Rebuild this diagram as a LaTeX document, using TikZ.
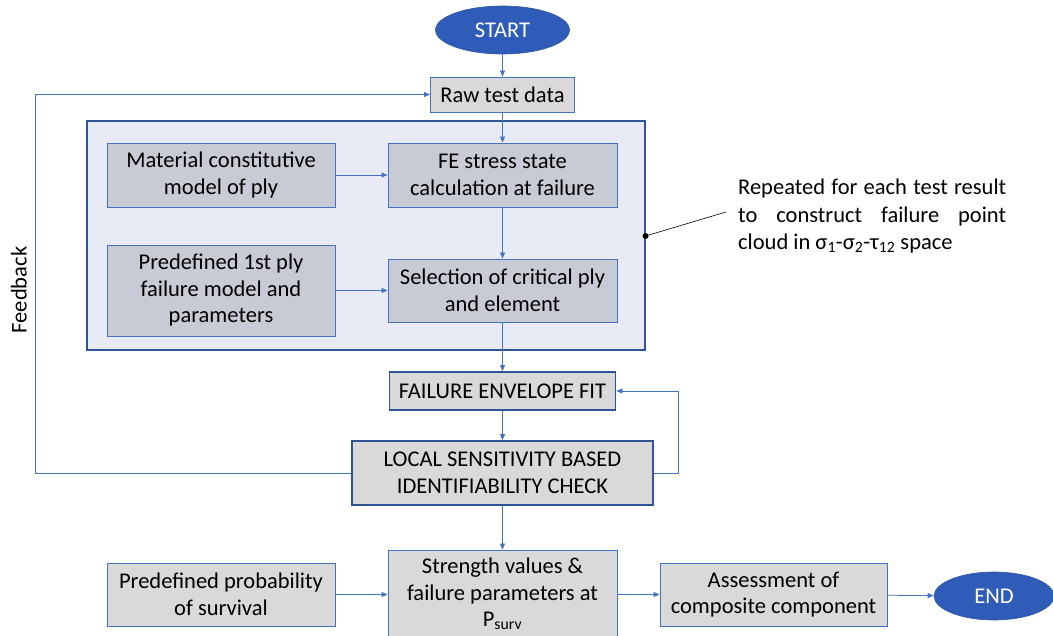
\documentclass[tikz,border=0pt]{standalone}
\usepackage{fontspec}
\setmainfont{Carlito}
\usetikzlibrary{shapes.geometric,arrows.meta,calc}
\definecolor{bord}{RGB}{68,114,196}
\definecolor{dbord}{RGB}{47,85,151}
\definecolor{grayfill}{RGB}{217,217,217}
\definecolor{innerfill}{RGB}{200,203,211}
\definecolor{outerfill}{RGB}{232,235,245}
\definecolor{ellfill}{RGB}{46,92,184}
\definecolor{linecol}{RGB}{68,114,196}
\begin{document}
\begin{tikzpicture}[x=1pt,y=-1pt,
  txt/.style={font=\fontsize{22.5}{26.5}\selectfont, text=black, align=center, inner sep=0pt},
  graybox/.style={txt, rectangle, draw=bord, line width=0.9pt, fill=grayfill},
  innerbox/.style={txt, rectangle, draw=bord, line width=0.9pt, fill=innerfill},
  thickbox/.style={txt, rectangle, draw=dbord, line width=1.8pt, fill=grayfill},
  terminal/.style={ellipse, fill=ellfill, draw=dbord, line width=0.6pt, text=white, font=\fontsize{22.5}{26}\selectfont, inner sep=0pt},
  conn/.style={draw=linecol, line width=0.8pt, -{Triangle[length=6pt,width=5pt]}},
  plain/.style={draw=linecol, line width=0.8pt}
]
\useasboundingbox (0,0) rectangle (1053,636);

% outer group box
\node[rectangle, draw=dbord, line width=1.1pt, fill=outerfill, minimum width=558pt, minimum height=229pt, inner sep=0pt] (outer) at (366,235.5) {};

\node[terminal, minimum width=134pt, minimum height=48pt] (start) at (502.5,30) {START};
\node[graybox, minimum width=144pt, minimum height=35pt] (raw) at (502.5,94.5) {Raw test data};

\node[innerbox, minimum width=228pt, minimum height=64pt] (mat) at (221,175) {Material constitutive\\model of ply};
\node[innerbox, minimum width=229pt, minimum height=64pt] (fe) at (502.5,175) {FE stress state\\calculation at failure};
\node[innerbox, minimum width=228pt, minimum height=91pt] (pre) at (221,290.5) {Predefined 1st ply\\failure model and\\parameters};
\node[innerbox, minimum width=229pt, minimum height=63pt] (sel) at (502.5,290.5) {Selection of critical ply\\and element};

\node[thickbox, minimum width=226pt, minimum height=38pt] (fef) at (502.5,391) {FAILURE ENVELOPE FIT};
\node[thickbox, minimum width=301pt, minimum height=64pt] (loc) at (502.5,473) {LOCAL SENSITIVITY BASED\\IDENTIFIABILITY CHECK};

\node[graybox, minimum width=229pt, minimum height=88pt] (str) at (502.5,594) {Strength values \&\\failure parameters at\\P\textsubscript{surv}};
\node[graybox, minimum width=228pt, minimum height=63pt] (prob) at (221,594.5) {Predefined probability\\of survival};
\node[graybox, minimum width=227pt, minimum height=63pt] (ass) at (773.5,594.5) {Assessment of\\composite component};
\node[terminal, minimum width=120pt, minimum height=48pt] (end) at (994,596) {END};

% annotation
\node[font=\fontsize{22.5}{27.5}\selectfont, align=left, inner sep=0pt, anchor=north west] (ann) at (738,179) {\makebox[268pt][s]{Repeated for each test result}\\\makebox[268pt][s]{to construct failure point}\\cloud in σ\textsubscript{1}-σ\textsubscript{2}-τ\textsubscript{12} space};
\coordinate (dot) at (outer.east |- 0,236);
\coordinate (annend) at (726,212);
\draw[black, line width=0.6pt] (dot) -- (annend);
\fill[black] (dot) circle (3pt);

% feedback label
\node[font=\fontsize{22.5}{26}\selectfont, rotate=90, inner sep=0pt] (fb) at (19,290) {Feedback};

% connectors
\draw[conn] (start) -- (raw);
\draw[conn] (raw) -- (fe);
\draw[conn] (mat) -- (fe);
\draw[conn] (fe) -- (sel);
\draw[conn] (pre.east |- sel.west) -- (sel.west);
\draw[conn] (sel) -- (fef);
\draw[conn] (fef) -- (loc);
\draw[conn] (loc.west) -- ++(-316,0) |- (raw.west);
\draw[conn] (loc.east) -- ++(24,0) |- (fef.east);
\draw[conn] (loc.south) -- (str.north);
\draw[conn] (prob) -- (str.west |- prob.east);
\draw[conn] (str.east |- ass.west) -- (ass);
\draw[conn] (ass) -- (end);
\end{tikzpicture}
\end{document}
